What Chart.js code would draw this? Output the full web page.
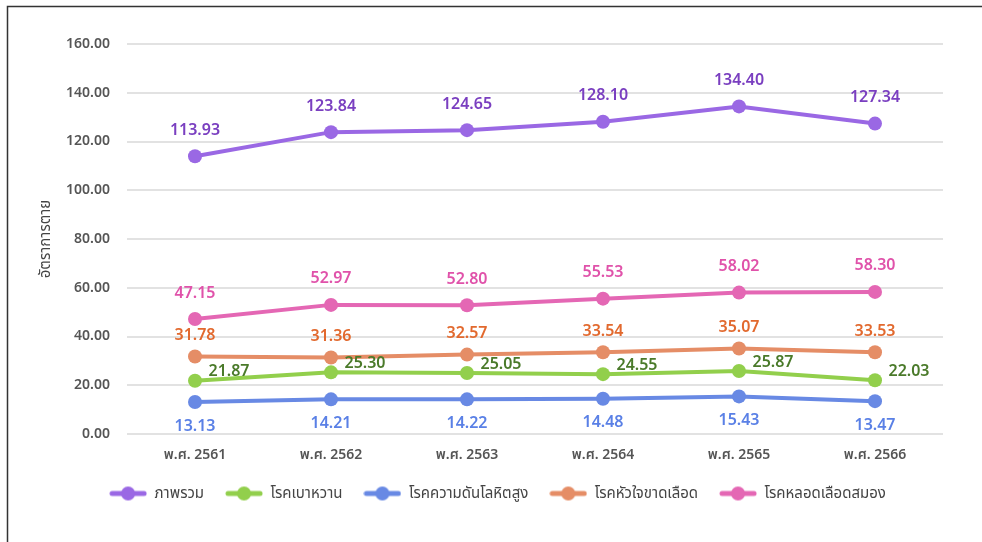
<!DOCTYPE html>
<html>
<head>
<meta charset="utf-8">
<script src="https://cdn.jsdelivr.net/npm/chart.js@4.4.1/dist/chart.umd.min.js"></script>
<style>
  html, body { margin: 0; padding: 0; background: #fff; }
  #wrap { position: relative; width: 982px; height: 542px; }
</style>
</head>
<body>
<div id="wrap"><canvas id="c" width="982" height="542"></canvas></div>
<script>
// ---- data ----
var years = ['พ.ศ. 2561', 'พ.ศ. 2562', 'พ.ศ. 2563', 'พ.ศ. 2564', 'พ.ศ. 2565', 'พ.ศ. 2566'];
var overall = [113.93, 123.84, 124.65, 128.10, 134.40, 127.34];
var diabetes = [21.87, 25.30, 25.05, 24.55, 25.87, 22.03];
var hypertension = [13.13, 14.21, 14.22, 14.48, 15.43, 13.47];
var heart = [31.78, 31.36, 32.57, 33.54, 35.07, 33.53];
var stroke = [47.15, 52.97, 52.80, 55.53, 58.02, 58.30];
var seriesNames = ['ภาพรวม', 'โรคเบาหวาน', 'โรคความดันโลหิตสูง', 'โรคหัวใจขาดเลือด', 'โรคหลอดเลือดสมอง'];
var yTitle = 'อัตราการตาย';

var FONT = '"Noto Sans", "Noto Sans Thai", "Open Sans", sans-serif';
var lineCol = ['#9a68e4', '#92cf4c', '#6889e4', '#e58d66', '#e467b4'];
var labCol = ['#7a3fc0', '#4a7a2a', '#5a80e6', '#e2692e', '#e052aa'];
// label placement per series: [dx, dy]
var labOff = [[0, -26], [34, -9], [0, 24], [0, -21], [0, -26]];

// legend marker: short line with a dot in the middle
function marker(col) {
  var cv = document.createElement('canvas'); cv.width = 38; cv.height = 16;
  var g = cv.getContext('2d');
  g.strokeStyle = col; g.lineWidth = 5; g.lineCap = 'round';
  g.beginPath(); g.moveTo(3, 8); g.lineTo(35, 8); g.stroke();
  g.fillStyle = col; g.beginPath(); g.arc(19, 8, 7, 0, Math.PI * 2); g.fill();
  return cv;
}
var markers = lineCol.map(marker);

function ds(i, data) {
  return {
    label: seriesNames[i], data: data, borderColor: lineCol[i], backgroundColor: lineCol[i],
    borderWidth: 4, pointRadius: 7, pointHoverRadius: 7, pointBackgroundColor: lineCol[i],
    pointBorderWidth: 0, tension: 0, pointStyle: 'circle'
  };
}

var frame = {
  id: 'frame', beforeDraw: function (ch) {
    var g = ch.ctx; g.save(); g.strokeStyle = '#333'; g.lineWidth = 1.5;
    g.beginPath(); g.moveTo(7.5, 542); g.lineTo(7.5, 6.5); g.lineTo(982, 6.5); g.stroke(); g.restore();
  }
};

var valueLabels = {
  id: 'vlab', afterDatasetsDraw: function (ch) {
    var g = ch.ctx; g.save();
    g.font = '600 16px ' + FONT; g.textAlign = 'center'; g.textBaseline = 'middle';
    ch.data.datasets.forEach(function (d, i) {
      var m = ch.getDatasetMeta(i);
      m.data.forEach(function (pt, j) {
        g.fillStyle = labCol[i];
        g.fillText(d.data[j].toFixed(2), pt.x + labOff[i][0], pt.y + labOff[i][1]);
      });
    });
    g.restore();
  }
};

new Chart(document.getElementById('c').getContext('2d'), {
  type: 'line',
  data: { labels: years, datasets: [ds(0, overall), ds(1, diabetes), ds(2, hypertension), ds(3, heart), ds(4, stroke)] },
  options: {
    responsive: false, animation: false, devicePixelRatio: 1,
    layout: { padding: { left: 52, right: 39, top: 44, bottom: 31 } },
    plugins: {
      tooltip: { enabled: false },
      legend: {
        position: 'bottom',
        labels: {
          usePointStyle: true, pointStyleWidth: 38, padding: 21,
          color: '#444', font: { family: FONT, size: 15 },
          generateLabels: function (ch) {
            return ch.data.datasets.map(function (d, i) {
              return { text: d.label, pointStyle: markers[i], fillStyle: lineCol[i], strokeStyle: lineCol[i], lineWidth: 0, fontColor: '#444', datasetIndex: i };
            });
          }
        }
      }
    },
    scales: {
      x: {
        offset: true,
        grid: { display: false, drawTicks: false },
        border: { display: false },
        ticks: { color: '#555', padding: 13, font: { family: FONT, size: 14, weight: '600' } },
        afterFit: function (s) { s.height = 31; }
      },
      y: {
        min: 0, max: 160,
        grid: { color: '#e2e2e2', lineWidth: 2, drawTicks: false },
        border: { display: false },
        ticks: { stepSize: 20, color: '#555', padding: 17, font: { family: FONT, size: 14, weight: '600' },
          callback: function (v) { return v.toFixed(2); } },
        title: { display: true, text: yTitle, color: '#444', font: { family: FONT, size: 15 }, padding: { top: -15, bottom: 0 } },
        afterFit: function (s) { s.width = 75; }
      }
    }
  },
  plugins: [frame, valueLabels]
});
</script>
</body>
</html>
